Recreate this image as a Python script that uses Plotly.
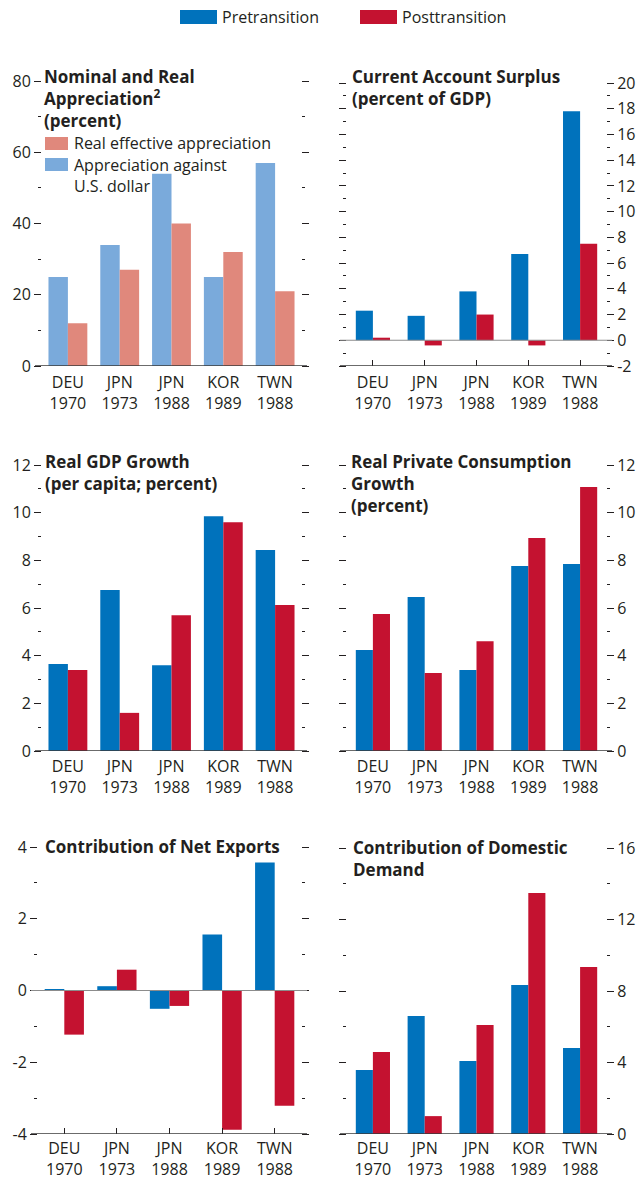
import plotly.graph_objects as go

# ---------------- data ----------------
categories = ["DEU<br>1970", "JPN<br>1973", "JPN<br>1988", "KOR<br>1989", "TWN<br>1988"]

appr_usd = [25, 34, 54, 25, 57]          # Appreciation against U.S. dollar
appr_reer = [12, 27, 40, 32, 21]         # Real effective appreciation

ca_pre = [2.3, 1.9, 3.8, 6.7, 17.8]
ca_post = [0.2, -0.4, 2.0, -0.4, 7.5]

gdp_pre = [3.65, 6.75, 3.6, 9.85, 8.43]
gdp_post = [3.4, 1.6, 5.7, 9.6, 6.13]

cons_pre = [4.24, 6.46, 3.4, 7.76, 7.85]
cons_post = [5.75, 3.27, 4.6, 8.94, 11.08]

nx_pre = [0.03, 0.12, -0.51, 1.56, 3.57]
nx_post = [-1.23, 0.58, -0.43, -3.88, -3.21]

dd_pre = [3.58, 6.6, 4.08, 8.34, 4.81]
dd_post = [4.59, 1.0, 6.1, 13.48, 9.34]

# y tick labels that use a plain hyphen for negatives
ca_ticks = [-2, 0, 2, 4, 6, 8, 10, 12, 14, 16, 18, 20]
nx_ticks = [-4, -2, 0, 2, 4]

# ---------------- style ----------------
W, H = 636, 1180
BLUE = "#0072bc"
RED = "#c41230"
LBLUE = "#7aaadb"
SALMON = "#e0887c"
TXT = "#231f20"
FONT = "Open Sans"
FS = 16
TICKFONT = dict(family=FONT, size=FS, color=TXT)
TITLE_FS = 17


def xd(a, b):
    return [a / W, b / W]


def yd(top, bottom):
    return [1 - bottom / H, 1 - top / H]


panels = [
    dict(n=1, x=(42, 301), y=(81, 366), rng=[0, 80], dt=20, mdt=10, side="left", xt=False,
         s=(appr_usd, appr_reer), c=(LBLUE, SALMON), w=0.375, tx=43, ty=63.5, ticks=None, so=5,
         title="Nominal and Real<br>Appreciation<sup>2</sup><br>(percent)"),
    dict(n=2, x=(347, 606), y=(83, 366), rng=[-2, 20], dt=2, mdt=1, side="right", xt=True,
         s=(ca_pre, ca_post), c=(BLUE, RED), w=0.33, tx=351, ty=63.5, ticks=ca_ticks, so=5,
         title="Current Account Surplus<br>(percent of GDP)"),
    dict(n=3, x=(42, 301), y=(465, 751), rng=[0, 12], dt=2, mdt=1, side="left", xt=False,
         s=(gdp_pre, gdp_post), c=(BLUE, RED), w=0.375, tx=44, ty=449, ticks=None, so=4,
         title="Real GDP Growth<br>(per capita; percent)"),
    dict(n=4, x=(347, 606), y=(465, 751), rng=[0, 12], dt=2, mdt=1, side="right", xt=False,
         s=(cons_pre, cons_post), c=(BLUE, RED), w=0.33, tx=350, ty=449, ticks=None, so=4,
         title="Real Private Consumption<br>Growth<br>(percent)"),
    dict(n=5, x=(38, 301), y=(847, 1134), rng=[-4, 4], dt=2, mdt=1, side="left", xt=True,
         s=(nx_pre, nx_post), c=(BLUE, RED), w=0.373, tx=44, ty=834, ticks=nx_ticks, so=3,
         title="Contribution of Net Exports"),
    dict(n=6, x=(347, 606), y=(848, 1134), rng=[0, 16], dt=4, mdt=2, side="right", xt=False,
         s=(dd_pre, dd_post), c=(BLUE, RED), w=0.33, tx=352, ty=835, ticks=None, so=3,
         title="Contribution of Domestic<br>Demand"),
]

fig = go.Figure()
layout = dict(
    template="none",
    width=W, height=H, margin=dict(l=0, r=0, t=0, b=0, pad=0), autosize=False,
    paper_bgcolor="white", plot_bgcolor="white",
    barmode="overlay", showlegend=False,
    font=dict(family=FONT, color=TXT),
)
shapes = []
annotations = []


def text(t, x, y, size=FS, bold=False, anchor="middle"):
    annotations.append(dict(text=f"<b>{t}</b>" if bold else t, xref="paper", yref="paper",
                            x=x / W, y=1 - y / H, xanchor="left", yanchor=anchor,
                            align="left", showarrow=False, borderpad=0,
                            font=dict(family=FONT, size=size, color=TXT)))


for p in panels:
    n = p["n"]
    sx = "" if n == 1 else str(n)
    xa, ya = "x" + sx, "y" + sx
    w = p["w"]
    a, b = p["s"]
    ca, cb = p["c"]
    fig.add_trace(go.Bar(x=categories, y=a, width=w, offset=-w, marker=dict(color=ca, line=dict(width=0)),
                         xaxis=xa, yaxis=ya, hoverinfo="y"))
    fig.add_trace(go.Bar(x=categories, y=b, width=w, offset=0, marker=dict(color=cb, line=dict(width=0)),
                         xaxis=xa, yaxis=ya, hoverinfo="y"))

    layout["xaxis" + sx] = dict(
        domain=xd(*p["x"]), anchor=ya, type="category", range=[-0.5, 4.5],
        showgrid=False, zeroline=False, showline=False, automargin=False,
        ticks="inside" if p["xt"] else "", ticklen=6, tickwidth=1, tickcolor=TXT,
        tickfont=TICKFONT, fixedrange=True, ticklabelstandoff=p["so"],
    )
    yax = dict(
        domain=yd(*p["y"]), anchor=xa, range=p["rng"], dtick=p["dt"], tick0=0,
        side=p["side"], showgrid=False, zeroline=False, showline=False, automargin=False,
        ticks="outside", ticklen=7, tickwidth=1, tickcolor=TXT, mirror="ticks",
        minor=dict(dtick=p["mdt"], tick0=0, ticks="outside", ticklen=3, tickwidth=1, tickcolor=TXT),
        tickfont=TICKFONT, fixedrange=True,
    )
    if p["ticks"] is not None:
        yax.update(tickmode="array", tickvals=p["ticks"], ticktext=[str(v) for v in p["ticks"]])
    layout["yaxis" + sx] = yax

    span = p["x"][1] - p["x"][0]
    ext0, ext1 = -7 / span, 1 + 6 / span
    shapes.append(dict(type="line", xref=xa + " domain", yref=ya, x0=ext0, x1=ext1,
                       y0=p["rng"][0], y1=p["rng"][0], line=dict(color="#3a3a3a", width=1.5), layer="above"))
    if p["rng"][0] < 0:
        shapes.append(dict(type="line", xref=xa + " domain", yref=ya, x0=ext0, x1=ext1,
                           y0=0, y1=0, line=dict(color="#8c8c8c", width=1.2), layer="above"))
    text(p["title"], p["tx"], p["ty"], size=TITLE_FS, bold=True, anchor="top")

# top legend
legend_items = [("Pretransition", BLUE, 180), ("Posttransition", RED, 360)]
for label, col, x0 in legend_items:
    shapes.append(dict(type="rect", xref="paper", yref="paper", x0=x0 / W, x1=(x0 + 37) / W,
                       y0=1 - 24 / H, y1=1 - 10 / H, fillcolor=col, line=dict(width=0)))
    text(label, x0 + 41, 17)

# inner legend of panel 1
inner_swatches = [(SALMON, 137), (LBLUE, 158)]
for col, y0 in inner_swatches:
    shapes.append(dict(type="rect", xref="paper", yref="paper", x0=45 / W, x1=68 / W,
                       y0=1 - (y0 + 13) / H, y1=1 - y0 / H, fillcolor=col, line=dict(width=0)))
text("Real effective appreciation", 72.5, 142.5)
text("Appreciation against<br>U.S. dollar", 72.5, 153, anchor="top")

layout["shapes"] = shapes
layout["annotations"] = annotations
fig.update_layout(**layout)
fig.write_html("out.html", config={"displayModeBar": False},
               post_script="document.body.style.margin='0px';")
